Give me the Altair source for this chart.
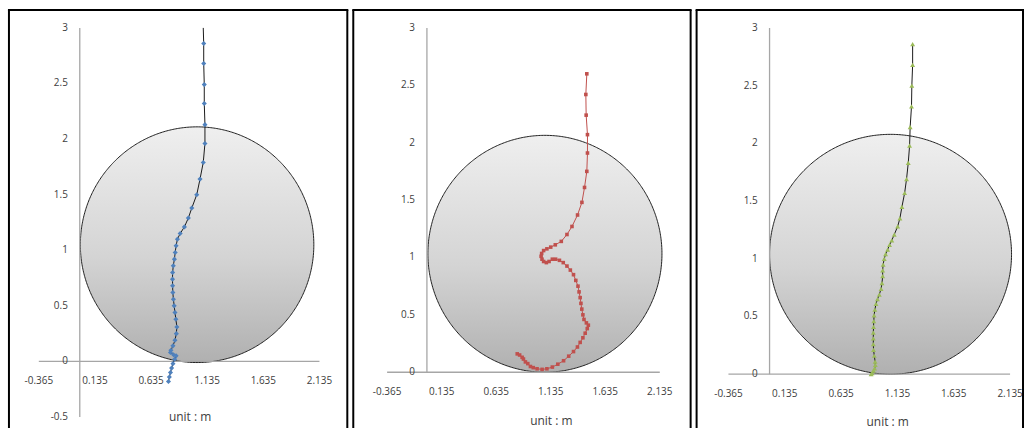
import math
import altair as alt
import pandas as pd

# ---------------- walking paths (unit: m) ----------------
# panel 1 (blue); the first point only carries the line up to y = 3
p1_x = [1.100, 1.104, 1.104, 1.109, 1.109, 1.115, 1.115, 1.100, 1.071, 1.042, 0.998,
        0.967, 0.932, 0.894, 0.870, 0.858, 0.850, 0.843, 0.833, 0.827, 0.826, 0.827,
        0.829, 0.834, 0.841, 0.848, 0.856, 0.865, 0.860, 0.848, 0.830, 0.812, 0.808,
        0.835, 0.858, 0.845, 0.830, 0.818, 0.808, 0.798, 0.790]
p1_y = [3.00, 2.86, 2.68, 2.49, 2.32, 2.13, 1.96, 1.79, 1.64, 1.50, 1.38,
        1.29, 1.21, 1.15, 1.10, 1.04, 0.98, 0.92, 0.86, 0.80, 0.74, 0.68,
        0.62, 0.56, 0.50, 0.44, 0.38, 0.31, 0.25, 0.19, 0.14, 0.10, 0.08,
        0.06, 0.05, 0.02, -0.02, -0.06, -0.10, -0.14, -0.18]

# panel 2 (red)
p2_x = [1.466, 1.457, 1.460, 1.472, 1.472, 1.466, 1.445, 1.421, 1.381, 1.330, 1.284,
        1.232, 1.177, 1.135, 1.100, 1.070, 1.052, 1.047, 1.055, 1.070, 1.095, 1.120,
        1.150, 1.180, 1.215, 1.250, 1.284, 1.315, 1.344, 1.365, 1.385, 1.395, 1.405,
        1.412, 1.420, 1.430, 1.440, 1.462, 1.480, 1.470, 1.451, 1.430, 1.405, 1.380,
        1.344, 1.300, 1.253, 1.200, 1.150, 1.100, 1.056, 1.010, 0.975, 0.949, 0.925,
        0.903, 0.885, 0.873, 0.850, 0.828]
p2_y = [2.60, 2.42, 2.24, 2.07, 1.91, 1.75, 1.61, 1.48, 1.37, 1.27, 1.20,
        1.14, 1.11, 1.09, 1.075, 1.06, 1.035, 1.01, 0.985, 0.965, 0.955, 0.965,
        0.985, 0.985, 0.975, 0.955, 0.925, 0.89, 0.85, 0.80, 0.75, 0.70, 0.65,
        0.60, 0.55, 0.50, 0.46, 0.43, 0.41, 0.38, 0.34, 0.30, 0.26, 0.22,
        0.18, 0.14, 0.10, 0.07, 0.045, 0.03, 0.025, 0.03, 0.04, 0.05, 0.075,
        0.09, 0.115, 0.13, 0.15, 0.16]

# panel 3 (green)
p3_x = [1.270, 1.270, 1.263, 1.260, 1.248, 1.243, 1.231, 1.216, 1.199, 1.175, 1.157,
        1.137, 1.107, 1.085, 1.065, 1.048, 1.030, 1.018, 1.008, 1.004, 1.004, 0.998,
        0.990, 0.974, 0.958, 0.945, 0.935, 0.928, 0.925, 0.923, 0.921, 0.921, 0.921,
        0.923, 0.930, 0.937, 0.939, 0.932, 0.922, 0.910, 0.901]
p3_y = [2.86, 2.68, 2.50, 2.32, 2.14, 1.98, 1.83, 1.69, 1.57, 1.45, 1.35,
        1.28, 1.21, 1.16, 1.12, 1.08, 1.04, 1.00, 0.95, 0.90, 0.85, 0.79,
        0.74, 0.69, 0.65, 0.61, 0.56, 0.51, 0.46, 0.41, 0.36, 0.31, 0.26,
        0.21, 0.16, 0.11, 0.08, 0.05, 0.03, 0.01, 0.00]

# circular area: centre x, centre y, half width, half height
circle_1 = (1.045, 1.05, 1.04, 1.06)
circle_2 = (1.082, 1.032, 1.073, 1.032)
circle_3 = (1.074, 1.039, 1.074, 1.039)

# axis tick labels
x_ticks = [-0.365, 0.135, 0.635, 1.135, 1.635, 2.135]
y_ticks_1 = [-0.5, 0, 0.5, 1, 1.5, 2, 2.5, 3]
y_ticks = [0, 0.5, 1, 1.5, 2, 2.5, 3]
axis_title = "unit : m"

FONT = "Open Sans"
TEXT_COLOR = "#404040"
AXIS_COLOR = "#a6a6a6"
HEIGHT = 421

shade = alt.LinearGradient(
    gradient="linear",
    stops=[alt.GradientStop(color="#efefef", offset=0),
           alt.GradientStop(color="#d4d4d4", offset=0.55),
           alt.GradientStop(color="#b0b0b0", offset=1)],
    x1=0, x2=0, y1=0, y2=1,
)


def fmt(v):
    return f"{v:g}"


def panel(xs, ys, first_marker, circle, yt, x_range, y_range, width,
          title_xy, line_color, marker_color, shape, marker_size):
    sx = alt.Scale(domain=[x_ticks[0], x_ticks[-1]], range=x_range, nice=False, zero=False)
    sy = alt.Scale(domain=[yt[0], yt[-1]], range=y_range, nice=False, zero=False)

    def X(field="x"):
        return alt.X(f"{field}:Q", scale=sx, axis=None)

    def Y(field="y"):
        return alt.Y(f"{field}:Q", scale=sy, axis=None)

    # circle outline built from its centre and half-axes
    cx, cy, rx, ry = circle
    n = 240
    ts = [math.pi - math.pi * k / n for k in range(n + 1)]
    circ = pd.DataFrame({
        "x": [cx + rx * math.cos(t) for t in ts],
        "y": [cy + ry * math.sin(t) for t in ts],
        "y2": [cy - ry * math.sin(t) for t in ts],
    })
    disc = alt.Chart(circ).mark_area(
        fill=shade, stroke="#1f1f1f", strokeWidth=1
    ).encode(x=X(), y=Y(), y2="y2:Q")

    # axis lines crossing at the origin
    hline = alt.Chart(pd.DataFrame({"x": [x_ticks[0]], "x2": [x_ticks[-1]], "y": [0]})).mark_rule(
        color=AXIS_COLOR, strokeWidth=1.3
    ).encode(x=X(), x2="x2:Q", y=Y())
    vline = alt.Chart(pd.DataFrame({"x": [0], "y": [yt[0]], "y2": [yt[-1]]})).mark_rule(
        color=AXIS_COLOR, strokeWidth=1.3
    ).encode(x=X(), y=Y(), y2="y2:Q")

    xlab = alt.Chart(pd.DataFrame({"x": x_ticks, "y": [0] * len(x_ticks),
                                   "t": [fmt(v) for v in x_ticks]})).mark_text(
        font=FONT, fontSize=10, color=TEXT_COLOR, align="center", baseline="middle", dy=20
    ).encode(x=X(), y=Y(), text="t:N")
    ylab = alt.Chart(pd.DataFrame({"x": [0] * len(yt), "y": yt,
                                   "t": [fmt(v) for v in yt]})).mark_text(
        font=FONT, fontSize=10, color=TEXT_COLOR, align="right", baseline="middle", dx=-12
    ).encode(x=X(), y=Y(), text="t:N")

    title = alt.Chart(pd.DataFrame({"t": [axis_title]})).mark_text(
        font=FONT, fontSize=12, color=TEXT_COLOR, align="center", baseline="middle"
    ).encode(x=alt.value(title_xy[0]), y=alt.value(title_xy[1]), text="t:N")

    track = pd.DataFrame({"i": list(range(len(xs))), "x": xs, "y": ys})
    path = alt.Chart(track).mark_line(color=line_color, strokeWidth=1).encode(
        x=X(), y=Y(), order="i:Q")
    dots = alt.Chart(track).transform_filter(alt.datum.i >= first_marker).mark_point(
        filled=True, shape=shape, size=marker_size, color=marker_color, opacity=1
    ).encode(x=X(), y=Y())

    box = pd.DataFrame({"a": [0]})
    left = alt.Chart(box).mark_rule(color="black", strokeWidth=2).encode(
        x=alt.value(1), y=alt.value(1), y2=alt.value(HEIGHT))
    top = alt.Chart(box).mark_rule(color="black", strokeWidth=2).encode(
        x=alt.value(0), x2=alt.value(width), y=alt.value(1))
    right = alt.Chart(box).mark_rule(color="black", strokeWidth=2).encode(
        x=alt.value(width - 1), y=alt.value(1), y2=alt.value(HEIGHT))

    return alt.layer(disc, hline, vline, xlab, ylab, title, path, dots, left, top, right).properties(
        width=width, height=HEIGHT)


c1 = panel(p1_x, p1_y, 1, circle_1, y_ticks_1, [31, 313], [410, 19], 342,
           (183, 410), "#1a1a1a", "#4f81bd", "diamond", 26)
c2 = panel(p2_x, p2_y, 0, circle_2, y_ticks, [35, 309], [365, 19], 341,
           (200, 414), "#c0504d", "#c0504d", "square", 13)
c3 = panel(p3_x, p3_y, 0, circle_3, y_ticks, [33, 316], [367, 19], 330,
           (193, 415), "#1a1a1a", "#9bbb59", "triangle-up", 24)

chart = alt.hconcat(c1, c2, c3, spacing=2).properties(
    padding={"left": 7, "top": 8, "right": 0, "bottom": 0},
    background="white",
).configure_view(stroke=None)

chart.save("out.html", embed_options={"renderer": "svg", "actions": False})
